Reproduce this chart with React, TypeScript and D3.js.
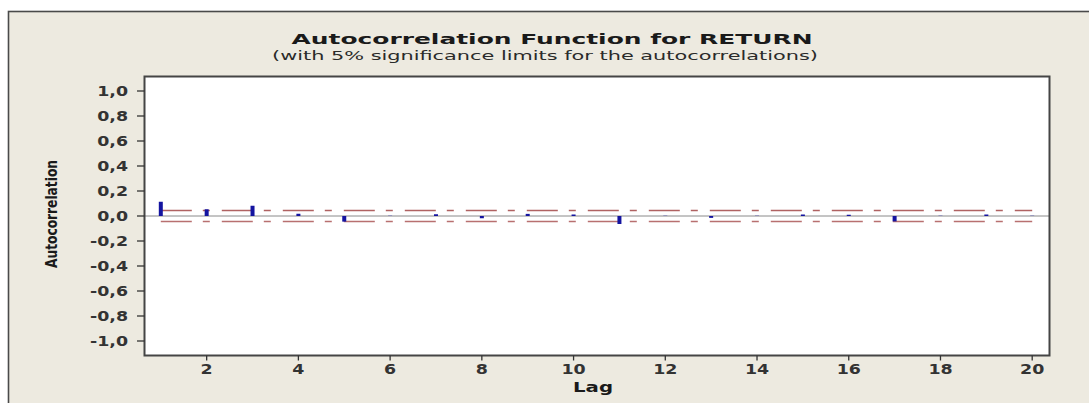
import React from "react";
import * as d3 from "d3";

const lags = [1, 2, 3, 4, 5, 6, 7, 8, 9, 10, 11, 12, 13, 14, 15, 16, 17, 18, 19, 20];
const acf = [0.114, 0.054, 0.082, 0.018, -0.045, 0.002, 0.014, -0.018, 0.017, 0.012, -0.064, 0.002, -0.015, 0.002, 0.012, 0.01, -0.043, 0.002, 0.012, 0.002];
const upperLimit = [0.044, 0.044, 0.044, 0.044, 0.044, 0.044, 0.044, 0.044, 0.044, 0.044, 0.044, 0.044, 0.044, 0.044, 0.044, 0.044, 0.044, 0.044, 0.044, 0.044];
const lowerLimit = [-0.044, -0.044, -0.044, -0.044, -0.044, -0.044, -0.044, -0.044, -0.044, -0.044, -0.044, -0.044, -0.044, -0.044, -0.044, -0.044, -0.044, -0.044, -0.044, -0.044];
const yTicks = [1.0, 0.8, 0.6, 0.4, 0.2, 0.0, -0.2, -0.4, -0.6, -0.8, -1.0];
const xTicks = [2, 4, 6, 8, 10, 12, 14, 16, 18, 20];

const titleText = "Autocorrelation Function for RETURN";
const subtitleText = "(with 5% significance limits for the autocorrelations)";
const xLabel = "Lag";
const yLabel = "Autocorrelation";

export default function App() {
  const plotL = 144.5, plotT = 76.5, plotR = 1049.5, plotB = 355.5;
  const x = d3.scaleLinear().domain([1, 20]).range([160.8, 1032.2]);
  const y = d3.scaleLinear().domain([-1, 1]).range([341, 91]);
  const fmt = (v: number) => d3.format(".1f")(v).replace(".", ",").replace("\u2212", "-");

  const upperLine = d3.line<number>().x((_, i) => x(lags[i])).y((d) => y(d))(upperLimit) || "";
  const lowerLine = d3.line<number>().x((_, i) => x(lags[i])).y((d) => y(d))(lowerLimit) || "";

  const tickFont = "'DejaVu Sans', Verdana, sans-serif";
  const sx = 1.2;
  const barW = 4;

  return (
    <svg
      width={1089}
      height={403}
      style={{ position: "absolute", left: 0, top: 0, display: "block" }}
    >
      <rect x={0} y={0} width={1089} height={403} fill="#ffffff" />
      <rect x={8.5} y={11.5} width={1100} height={420} fill="#EDEAE0" stroke="#4a4a4a" strokeWidth={1.6} />
      <text
        x={552}
        y={44}
        textAnchor="middle"
        fontFamily={tickFont}
        fontWeight="bold"
        fontSize={14}
        fill="#1a1a1a"
        textLength={521}
        lengthAdjust="spacingAndGlyphs"
      >
        {titleText}
      </text>
      <text
        x={545}
        y={60}
        textAnchor="middle"
        fontFamily={tickFont}
        fontSize={13}
        fill="#2a2a2a"
        textLength={546}
        lengthAdjust="spacingAndGlyphs"
      >
        {subtitleText}
      </text>

      <rect x={plotL} y={plotT} width={plotR - plotL} height={plotB - plotT} fill="#ffffff" />

      {/* zero reference line */}
      <line x1={plotL} x2={plotR} y1={y(0)} y2={y(0)} stroke="#8a8a8a" strokeWidth={1} />

      {/* significance limits */}
      <path d={upperLine} fill="none" stroke="#B06262" strokeWidth={1.6} strokeDasharray="31,11,7,12" />
      <path d={lowerLine} fill="none" stroke="#B87070" strokeWidth={1.4} strokeDasharray="31,11,7,12" />

      {/* acf bars */}
      {acf.map((v, i) => {
        const y0 = y(0);
        const y1 = y(v);
        return (
          <rect
            key={i}
            x={x(lags[i]) - barW / 2}
            y={Math.min(y0, y1)}
            width={barW}
            height={Math.abs(y1 - y0)}
            fill="#1414A0"
          />
        );
      })}

      <rect x={plotL} y={plotT} width={plotR - plotL} height={plotB - plotT} fill="none" stroke="#454545" strokeWidth={2} />

      {/* y axis ticks */}
      {yTicks.map((t) => (
        <g key={t}>
          <line x1={137} x2={plotL} y1={y(t)} y2={y(t)} stroke="#333" strokeWidth={1.3} />
          <text
            transform={`translate(128,${y(t) + 5}) scale(${sx},1)`}
            textAnchor="end"
            fontFamily={tickFont}
            fontWeight="bold"
            fontSize={14.5}
            fill="#333"
          >
            {fmt(t)}
          </text>
        </g>
      ))}

      {/* x axis ticks */}
      {xTicks.map((t) => (
        <g key={t}>
          <line x1={x(t)} x2={x(t)} y1={plotB} y2={plotB + 5} stroke="#333" strokeWidth={1.3} />
          <text
            transform={`translate(${x(t)},374) scale(${sx},1)`}
            textAnchor="middle"
            fontFamily={tickFont}
            fontWeight="bold"
            fontSize={14.5}
            fill="#333"
          >
            {t}
          </text>
        </g>
      ))}

      <text
        x={593}
        y={391.5}
        textAnchor="middle"
        fontFamily={tickFont}
        fontWeight="bold"
        fontSize={14}
        fill="#1a1a1a"
        textLength={40}
        lengthAdjust="spacingAndGlyphs"
      >
        {xLabel}
      </text>
      <text
        transform="translate(57,214) rotate(-90)"
        textAnchor="middle"
        fontFamily="'DejaVu Sans Condensed', 'Liberation Sans Narrow', 'DejaVu Sans', sans-serif"
        fontWeight="bold"
        fontStretch="condensed"
        fontSize={16}
        fill="#1a1a1a"
        textLength={108}
        lengthAdjust="spacingAndGlyphs"
      >
        {yLabel}
      </text>
    </svg>
  );
}
